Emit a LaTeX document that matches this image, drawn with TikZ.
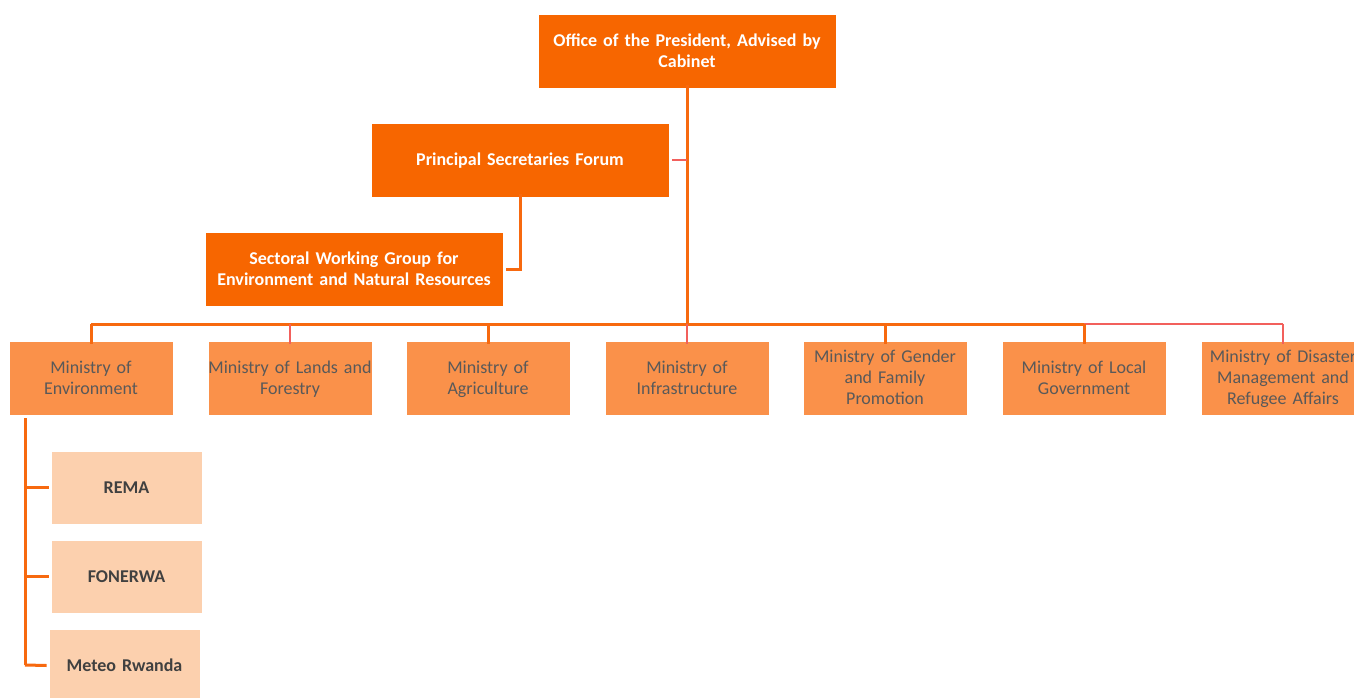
\documentclass[tikz,border=0pt]{standalone}
\usepackage{fontspec}
\setmainfont{Carlito}
\definecolor{dorange}{HTML}{F76600}
\definecolor{morange}{HTML}{FA914A}
\definecolor{lorange}{HTML}{FCD0AE}
\definecolor{lineor}{HTML}{F7690F}
\definecolor{linepk}{HTML}{F2605C}
\definecolor{mtext}{HTML}{595959}
\definecolor{stext}{HTML}{404040}
\newcommand\mytopstrut{\vrule height 17.5pt depth 0pt width 0pt}
\newcommand\mybotstrut{\vrule height 0pt depth 6.3pt width 0pt}
\tikzset{
  boxbase/.style={draw=white, line width=0.8pt, inner sep=0pt, align=center, execute at begin node=\mytopstrut, execute at end node=\mybotstrut},
  topbox/.style={boxbase, fill=dorange, minimum width=298pt, minimum height=74pt, text width=298pt, text=white, font=\fontsize{18}{21}\selectfont\bfseries},
  minbox/.style={boxbase, fill=morange, minimum width=164pt, minimum height=74pt, text width=164pt, text=mtext, font=\fontsize{18}{21}\selectfont},
  subbox/.style={boxbase, fill=lorange, minimum width=151pt, minimum height=73pt, text width=151pt, text=stext, font=\fontsize{18}{21}\selectfont\bfseries},
  conn/.style={draw=lineor, line width=3pt},
  connpk/.style={draw=linepk, line width=2.6pt},
}
\begin{document}
\begin{tikzpicture}[x=1pt,y=-1pt]
\useasboundingbox (0,0) rectangle (1354,698);
% top boxes
\node[topbox] (pres) at (687,51) {Office of the President, Advised by\\Cabinet};
\node[topbox] (psf) at (520,160) {Principal Secretaries Forum};
\node[topbox] (swg) at (354,269) {Sectoral Working Group for\\Environment and Natural Resources};
% ministries
\node[minbox] (m1) at (91,378) {Ministry of\\Environment};
\node[minbox] (m2) at (290,378) {Ministry of Lands and\\Forestry};
\node[minbox] (m3) at (488,378) {Ministry of\\Agriculture};
\node[minbox] (m4) at (687,378) {Ministry of\\Infrastructure};
\node[minbox] (m5) at (885,378) {Ministry of Gender\\and Family\\Promotion};
\node[minbox] (m6) at (1084,378) {Ministry of Local\\Government};
\node[minbox] (m7) at (1283,378) {Ministry of Disaster\\Management and\\Refugee Affairs};
% agencies
\node[subbox] (rema) at (126.5,487.5) {REMA};
\node[subbox] (fon) at (126.5,576.5) {FONERWA};
\node[subbox] (met) at (124.5,665.5) {Meteo Rwanda};
% coordinates
\coordinate (bus) at (687,324);
\coordinate (envtrunk) at (25,665);
% connectors
\draw[conn] ([yshift=3pt]pres.south) -- (bus);
\draw[connpk] ([xshift=3pt]psf.east) -- (psf.east -| pres.south);
\draw[conn] ([yshift=3pt]psf.south) |- ([xshift=3pt]swg.east);
\draw[conn] (bus) -- (bus -| m6.north);
\draw[conn] (bus) -- (bus -| m1.north);
\draw[connpk] (bus -| m6.north) -- (bus -| m7.north);
\draw[conn] (bus -| m1.north) -- ([yshift=-3pt]m1.north);
\draw[connpk] (bus -| m2.north) -- ([yshift=-3pt]m2.north);
\draw[conn] (bus -| m3.north) -- ([yshift=-3pt]m3.north);
\draw[connpk] (bus -| m4.north) -- ([yshift=-3pt]m4.north);
\draw[conn] (bus -| m5.north) -- ([yshift=-3pt]m5.north);
\draw[conn] (bus -| m6.north) -- ([yshift=-3pt]m6.north);
\draw[connpk] (bus -| m7.north) -- ([yshift=-3pt]m7.north);
\draw[conn] (25,418) -- (envtrunk);
\draw[conn] (rema.west -| envtrunk) -- ([xshift=-2pt]rema.west);
\draw[conn] (fon.west -| envtrunk) -- ([xshift=-2pt]fon.west);
\draw[conn] (envtrunk) -- ([xshift=-2pt]met.west);
\end{tikzpicture}
\end{document}
